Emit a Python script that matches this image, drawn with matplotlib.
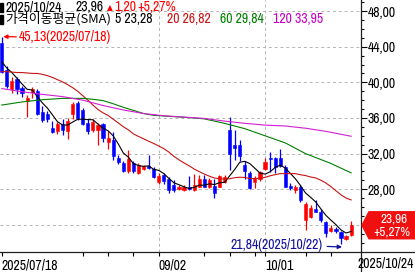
import matplotlib
matplotlib.use("Agg")
import matplotlib.pyplot as plt
import matplotlib.patches as mpatches
import matplotlib.transforms as mtransforms
from matplotlib import font_manager
from matplotlib.lines import Line2D
import numpy as np
import pandas as pd

# daily OHLC, 2025/07/18 .. 2025/10/24 (70 sessions)
opens = [44.4, 41.4, 39.3, 40.4, 39.4, 37.9, 38.9, 39.0, 36.7, 36.5,
         34.9, 34.5, 35.3, 34.5, 36.5, 37.7, 36.9, 35.4, 34.7, 34.7,
         35.3, 33.3, 33.5, 31.5, 31.0, 30.1, 31.0, 29.8, 30.3, 30.6,
         30.3, 28.85, 29.6, 29.1, 28.5, 28.0, 27.95, 28.3, 27.9, 28.3,
         29.1, 28.3, 28.35, 28.3, 28.85, 34.65, 33.0, 33.0, 30.7, 29.8,
         28.85, 29.1, 30.25, 31.5, 31.5, 31.5, 30.55, 28.35, 27.9, 28.3,
         24.5, 24.9, 25.8, 25.4, 24.3, 23.35, 23.55, 23.2, 22.45, 22.85]
highs = [45.13, 41.8, 40.6, 40.6, 39.6, 38.6, 39.5, 39.3, 37.3, 36.8,
         35.7, 35.5, 35.9, 36.0, 37.8, 37.9, 37.1, 35.9, 35.9, 35.4,
         35.4, 34.5, 34.4, 31.8, 31.2, 32.4, 31.2, 30.9, 30.7, 31.8,
         30.5, 29.8, 29.8, 29.4, 29.0, 28.5, 28.5, 29.5, 29.7, 29.6,
         29.6, 29.3, 29.2, 29.6, 29.6, 36.1, 34.7, 33.5, 31.2, 30.0,
         29.5, 30.1, 31.5, 32.2, 31.65, 32.5, 30.7, 28.7, 28.5, 28.5,
         26.6, 26.2, 26.8, 25.8, 24.4, 23.95, 23.8, 23.3, 22.9, 24.4]
lows = [41.0, 39.4, 38.8, 38.7, 38.3, 36.1, 38.2, 36.3, 35.6, 35.6,
        34.3, 34.2, 34.1, 33.6, 35.9, 35.8, 35.2, 34.2, 34.4, 33.0,
        33.3, 32.5, 31.3, 30.8, 29.9, 29.8, 29.8, 29.7, 30.2, 30.3,
        29.3, 28.6, 28.6, 27.6, 27.7, 27.9, 27.8, 27.9, 27.8, 28.2,
        28.2, 28.1, 27.0, 28.2, 28.7, 30.2, 31.3, 31.2, 29.2, 28.0,
        28.1, 28.9, 30.2, 29.95, 29.8, 30.5, 28.2, 27.9, 27.6, 26.6,
        23.4, 24.8, 25.4, 24.3, 22.6, 23.2, 23.1, 21.84, 22.3, 22.8]
closes = [41.2, 39.6, 40.2, 39.3, 38.8, 38.2, 39.2, 36.5, 35.8, 35.9,
          34.4, 35.3, 34.7, 35.7, 37.6, 36.0, 35.3, 34.5, 35.6, 35.2,
          33.7, 33.8, 31.7, 31.1, 30.1, 31.35, 30.1, 30.7, 30.6, 30.4,
          29.4, 29.5, 28.9, 27.9, 27.95, 28.3, 28.3, 28.0, 28.5, 29.2,
          28.3, 29.05, 27.6, 29.5, 29.4, 31.95, 32.6, 31.7, 30.05, 28.1,
          29.3, 29.95, 31.1, 31.35, 30.55, 30.6, 28.3, 28.1, 28.3, 26.8,
          26.4, 25.9, 25.5, 24.5, 23.1, 23.7, 23.35, 22.55, 22.76, 23.96]

ma5_head = [42.3, 41.6, 41.1, 40.45]
ma20_head = [41.2, 41.2, 41.15, 41.1, 41.1, 41.05, 41.0, 41.0, 40.9, 40.75,
             40.55, 40.3, 40.05, 39.75, 39.4, 39.0, 38.5, 38.0, 37.45]
ma60_idx = [0, 4, 8, 12, 16, 18, 20, 22, 24, 26, 28, 30, 34, 38, 40, 44, 48, 52, 56, 58, 60, 65, 69]
ma60_val = [37.45, 37.8, 38.05, 38.2, 38.2, 38.1, 37.95, 37.6, 37.2, 36.85, 36.5, 36.3,
            36.15, 36.0, 35.9, 35.4, 34.8, 34.0, 33.2, 32.6, 32.0, 30.9, 29.84]
ma120_idx = [0, 4, 8, 12, 16, 20, 24, 28, 32, 36, 40, 44, 48, 52, 56, 60, 64, 69]
ma120_val = [39.3, 38.95, 38.65, 38.4, 38.0, 37.4, 36.9, 36.5, 36.25, 36.1, 35.95,
             35.65, 35.4, 35.2, 35.1, 34.85, 34.5, 33.95]

date_labels = ["2025/07/18", "09/02", "10/01"]
date_label_idx = [0, 31, 52]
monday_idx = [16, 21, 26, 40, 45, 50, 60, 65]

W, H = 415, 272
RED = "#ff0000"
BLUE = "#0000ff"
MA20_C = "#c81414"
MA60_C = "#008000"
MA120_C = "#d21ed2"
NAVY = "#1010a0"

# a narrow face is closest to the HTS bitmap font
names = {f.name for f in font_manager.fontManager.ttflist}
narrow = "Liberation Sans"
for cand in ["Liberation Sans Narrow", "Archivo Narrow", "Barlow Semi Condensed", "Asap Condensed"]:
    if cand in names:
        narrow = cand
        break
FAM = [narrow, "Noto Sans CJK KR", "DejaVu Sans"]
plt.rcParams["font.family"] = FAM

n = len(closes)
x = np.arange(n)
close_s = pd.Series(closes)
ma5 = close_s.rolling(5).mean().to_numpy()
ma5[:4] = ma5_head
ma20 = close_s.rolling(20).mean().to_numpy()
ma20[:19] = ma20_head

fig = plt.figure(figsize=(W / 100, H / 100), dpi=100)
ax = fig.add_axes([0, 20 / H, 361 / W, 252 / H])
ax.set_xlim(-0.35, 70.95)
ax.set_ylim(20.96, 49.24)
renderer = fig.canvas.get_renderer()
ident = mtransforms.IdentityTransform()

# one font size for all latin text: "48,00" is about 28 px wide in the reference
probe = fig.text(0, 0, "48,00", fontsize=10)
FS = 10 * 28 / probe.get_window_extent(renderer).width
probe.remove()

# grid
for v in range(24, 49, 4):
    ax.axhline(v, color="#b4b4b4", lw=0.7, ls=(0, (3, 3)), zorder=0)
for i in date_label_idx[1:]:
    ax.axvline(i, color="#b4b4b4", lw=0.7, ls=(0, (3, 3)), zorder=0)

# candles
o = np.array(opens); c = np.array(closes)
up = c >= o
cols = np.where(up, RED, BLUE)
ax.vlines(x, lows, highs, colors=cols, lw=0.9, zorder=2)
body = np.where(np.abs(c - o) < 0.12, 0.12, c - o)
ax.bar(x, body, bottom=o, width=0.62, color=cols, edgecolor=cols, lw=0.4, zorder=3)

# moving averages
ax.plot(x, ma5, color="black", lw=0.8, zorder=4)
ax.plot(x, ma20, color=MA20_C, lw=0.8, zorder=4)
ax.plot(ma60_idx, ma60_val, color=MA60_C, lw=0.8, zorder=4)
ax.plot(ma120_idx, ma120_val, color=MA120_C, lw=0.8, zorder=4)


def ptext(px, py, s, color="black", ha="left", size=None, **kw):
    return fig.text(px, H - py, s, color=color, fontsize=size or FS, ha=ha, va="center",
                    transform=ident, **kw)


# axes styling
for s in ["top", "left"]:
    ax.spines[s].set_visible(False)
for s in ["right", "bottom"]:
    ax.spines[s].set_color("#202020")
    ax.spines[s].set_linewidth(0.9)
ax.yaxis.tick_right()
ax.set_yticks(range(24, 49, 4))
ax.set_yticklabels([f"{v:.2f}".replace(".", ",") for v in range(24, 49, 4)])
ax.set_yticks(range(22, 50), minor=True)
ax.set_xticks(date_label_idx + monday_idx)
ax.set_xticklabels(date_labels + [""] * len(monday_idx), ha="left")
ax.tick_params(axis="y", which="major", direction="out", length=4, width=0.8, pad=1, labelsize=FS)
ax.tick_params(axis="y", which="minor", direction="out", length=2, width=0.8)
ax.tick_params(axis="x", direction="out", length=3, width=0.8, pad=1.5, labelsize=FS)

# frame extensions
fig.add_artist(Line2D([361, W], [H - 252, H - 252], color="#202020", lw=0.9, transform=ident))
fig.add_artist(Line2D([361, 361], [0, H - 252], color="#202020", lw=0.9, transform=ident))

# header
for yy in (7, 19):
    fig.add_artist(mpatches.Rectangle((0, H - yy - 4.5), 2.5, 9, color="black", transform=ident))
ptext(5, 7, "2025/10/24")
ptext(75, 7, f"{closes[-1]:.2f}".replace(".", ","))
ptext(106.5, 7.5, "▲", color=RED, size=5.5, family=["DejaVu Sans"])
ptext(114, 7, "1,20", color=RED)
ptext(137, 7, "+5,27%", color=RED)
kor = ptext(5, 19, "가격이동평균(SMA)", family=["Noto Sans CJK KR"], size=9)
kor.set_fontsize(9 * 106 / kor.get_window_extent(renderer).width)
ptext(115, 19, "5 23,28")
ptext(167, 19, "20 26,82", color=MA20_C)
ptext(220, 19, "60 29,84", color=MA60_C)
ptext(273, 19, "120 33,95", color="#c800c8")

# max / min annotations
ax.annotate("45,13(2025/07/18)", xy=(0.3, highs[0]), xycoords="data",
            xytext=(19, H - 37.5), textcoords="figure pixels",
            color=RED, fontsize=FS, va="center", ha="left",
            arrowprops=dict(arrowstyle="-|>", color=RED, lw=0.9, mutation_scale=6,
                            shrinkA=0, shrinkB=0))
ax.annotate("21,84(2025/10/22)", xy=(342, H - 247), xycoords="figure pixels",
            xytext=(323, H - 244.5), textcoords="figure pixels",
            color=NAVY, fontsize=FS, va="center", ha="right",
            arrowprops=dict(arrowstyle="-|>", color=NAVY, lw=0.9, mutation_scale=6,
                            shrinkA=1, shrinkB=0))

# last price tag
fig.canvas.draw()
ty = ax.transData.transform((0, closes[-1]))[1]
tag = [(362, ty), (369, ty + 13.5), (W, ty + 13.5), (W, ty - 13.5), (369, ty - 13.5)]
fig.add_artist(mpatches.Polygon(tag, closed=True, color="#f01010", transform=ident))
fig.text(394, ty + 6.5, "23,96", color="white", fontsize=FS * 0.95, ha="center", va="center", transform=ident)
fig.text(392, ty - 6.5, "+5,27%", color="white", fontsize=FS * 0.95, ha="center", va="center", transform=ident)

ptext(357, 264, "2025/10/24")

fig.savefig("out.png", dpi=100, facecolor="white")
